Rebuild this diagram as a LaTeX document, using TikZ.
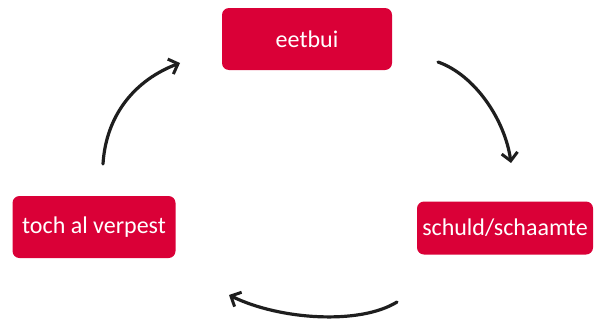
\documentclass[tikz,border=0pt]{standalone}
\usepackage{fontspec}
\setmainfont{Carlito}
\usetikzlibrary{arrows.meta}
\definecolor{boxred}{RGB}{218,0,55}
\definecolor{ink}{RGB}{30,30,30}
\tikzset{
  redbox/.style={fill=boxred, rounded corners=7pt, text=white, font=\fontsize{24}{28}\selectfont, inner sep=0pt, anchor=center},
  cyc/.style={draw=ink, line width=3.2pt, line cap=round, -{Straight Barb[length=8pt,width=16pt,line width=3pt]}}
}
\begin{document}
\begin{tikzpicture}[x=1pt,y=-1pt]
\useasboundingbox (0,0) rectangle (601,324);
\node[redbox, minimum width=170pt, minimum height=62pt] (eet) at (307,39) {eetbui};
\node[redbox, minimum width=176pt, minimum height=53pt] (sch) at (505,228) {schuld/schaamte};
\node[redbox, minimum width=163pt, minimum height=62pt] (toch) at (94,227) {toch al verpest};
\coordinate (a1s) at (103,164);
\coordinate (a1e) at (180,63);
\coordinate (a2s) at (438,62);
\coordinate (a2e) at (511,163);
\coordinate (a3s) at (397,302);
\coordinate (a3e) at (229,295);
\draw[cyc] (a1s) .. controls (106,115) and (135,80) .. (a1e);
\draw[cyc] (a2s) .. controls (475,75) and (505,120) .. (a2e);
\draw[cyc] (a3s) .. controls (360,325) and (280,320) .. (a3e);
\end{tikzpicture}
\end{document}
